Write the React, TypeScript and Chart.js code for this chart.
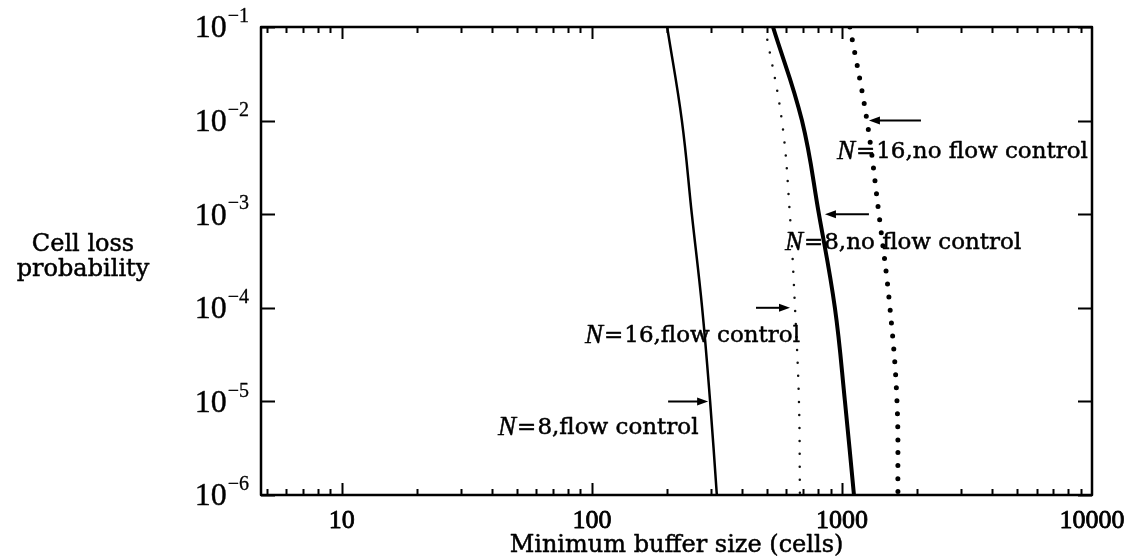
import React, { useEffect, useRef } from "react";
import { Chart, registerables } from "chart.js";

Chart.register(...registerables);

// ---- data ----
const probabilities = [1e-1, 1e-2, 1e-3, 1e-4, 1e-5, 1e-6];
const n8Flow = [200, 229, 251, 276, 297, 316];
const n16Flow = [492, 575, 619, 649, 673, 679];
const n8NoFlow = [530, 692, 809, 937, 1028, 1117];
const n16NoFlow = [1076, 1259, 1406, 1556, 1660, 1675];

const xTickValues = [10, 100, 1000, 10000];
const xTickLabels = ["10", "100", "1000", "10000"];
const yTickValues = [1e-1, 1e-2, 1e-3, 1e-4, 1e-5, 1e-6];
const yTickExponents = ["\u22121", "\u22122", "\u22123", "\u22124", "\u22125", "\u22126"];

const xTitle = "Minimum buffer size (cells)";
const yTitleLines = ["Cell loss", "probability"];

const annotationLabels = ["=16,no flow control", "=8,no flow control", "=16,flow control", "=8,flow control"];
const annotationSeries = [n16NoFlow, n8NoFlow, n16Flow, n8Flow];
const annotationIndex = [1, 2, 3, 4];
const annotationDirection = ["left", "left", "right", "right"];

const toPoints = (xs: number[]) => xs.map((x, i) => ({ x, y: probabilities[i] }));

const SERIF = "'DejaVu Serif', serif";
const TIMES = "'Liberation Serif', serif";

// layout of annotation texts relative to arrow tip (pixels)
const annotationLayout = [
  { gap: 2, len: 52, dx: -32, dy: 31 },
  { gap: 6, len: 44, dx: -40, dy: 29 },
  { gap: -5, len: 34, dx: -205, dy: 28 },
  { gap: -2, len: 40, dx: -210, dy: 27 },
];

function heavyText(ctx: CanvasRenderingContext2D, s: string, x: number, y: number, w = 0.6) {
  ctx.fillText(s, x, y);
  ctx.lineWidth = w;
  ctx.strokeText(s, x, y);
}

const framePlugin = {
  id: "framePlugin",
  afterDraw(chart: any) {
    const ctx = chart.ctx as CanvasRenderingContext2D;
    const a = chart.chartArea;
    const xs = chart.scales.x;
    const ys = chart.scales.y;
    ctx.save();
    ctx.strokeStyle = "#000";
    ctx.fillStyle = "#000";
    ctx.lineJoin = "round";

    // frame
    ctx.lineWidth = 2.5;
    ctx.strokeRect(a.left, a.top, a.right - a.left, a.bottom - a.top);

    // x ticks (major + minor), bottom and top, inward
    ctx.lineWidth = 2;
    for (let d = 0; d <= 4; d++) {
      for (let m = 1; m <= 9; m++) {
        const v = m * Math.pow(10, d);
        if (v <= xs.min || v >= xs.max) continue;
        const px = Math.round(xs.getPixelForValue(v)) + 0.5;
        const len = m === 1 ? 12 : 6;
        ctx.beginPath();
        ctx.moveTo(px, a.bottom);
        ctx.lineTo(px, a.bottom - len);
        ctx.moveTo(px, a.top);
        ctx.lineTo(px, a.top + len);
        ctx.stroke();
      }
    }
    // y ticks left and right
    yTickValues.forEach((v) => {
      const py = Math.round(ys.getPixelForValue(v)) + 0.5;
      ctx.beginPath();
      ctx.moveTo(a.left, py);
      ctx.lineTo(a.left + 14, py);
      ctx.moveTo(a.right, py);
      ctx.lineTo(a.right - 14, py);
      ctx.stroke();
    });

    // x tick labels
    ctx.font = `26px ${TIMES}`;
    ctx.textAlign = "center";
    ctx.textBaseline = "middle";
    xTickValues.forEach((v, i) => {
      heavyText(ctx, xTickLabels[i], xs.getPixelForValue(v), a.bottom + 26, 0.8);
    });

    // y tick labels with superscripts
    yTickValues.forEach((v, i) => {
      const py = ys.getPixelForValue(v);
      ctx.font = `20px ${TIMES}`;
      const ew = ctx.measureText(yTickExponents[i]).width;
      ctx.font = `32px ${TIMES}`;
      const bw = ctx.measureText("10").width;
      const right = a.left - 12;
      ctx.textAlign = "left";
      ctx.textBaseline = "middle";
      heavyText(ctx, "10", right - ew - bw - 1, py + 2, 0.4);
      ctx.font = `20px ${TIMES}`;
      heavyText(ctx, yTickExponents[i], right - ew, py - 10, 0.3);
    });

    // axis titles
    ctx.font = `24px ${SERIF}`;
    ctx.textAlign = "center";
    ctx.textBaseline = "middle";
    heavyText(ctx, xTitle, (a.left + a.right) / 2, 546, 0.5);
    heavyText(ctx, yTitleLines[0], 83, 245, 0.5);
    heavyText(ctx, yTitleLines[1], 83, 270, 0.5);

    // annotations: arrows + labels
    annotationLabels.forEach((label, i) => {
      const lay = annotationLayout[i];
      const series = annotationSeries[i];
      const idx = annotationIndex[i];
      const cx = xs.getPixelForValue(series[idx]);
      const py = ys.getPixelForValue(probabilities[idx]);
      const dir = annotationDirection[i];
      const tip = cx + lay.gap;
      const tail = dir === "left" ? tip + lay.len : tip - lay.len;
      const sgn = dir === "left" ? 1 : -1;
      ctx.lineWidth = 2;
      ctx.beginPath();
      ctx.moveTo(tail, py);
      ctx.lineTo(tip + sgn * 8, py);
      ctx.stroke();
      ctx.beginPath();
      ctx.moveTo(tip, py);
      ctx.lineTo(tip + sgn * 11, py - 4);
      ctx.lineTo(tip + sgn * 11, py + 4);
      ctx.closePath();
      ctx.fill();

      const tx = tip + lay.dx;
      const ty = py + lay.dy;
      ctx.textAlign = "left";
      ctx.textBaseline = "middle";
      ctx.font = `italic 27px ${TIMES}`;
      heavyText(ctx, "N", tx, ty, 0.5);
      const nw = ctx.measureText("N").width;
      ctx.font = `23px ${SERIF}`;
      heavyText(ctx, "=", tx + nw + 1, ty, 0.5);
      const ew = ctx.measureText("=").width;
      heavyText(ctx, label.slice(1), tx + nw + ew + 2, ty, 0.5);
    });
    ctx.restore();
  },
};

export default function App() {
  const ref = useRef<HTMLCanvasElement | null>(null);
  useEffect(() => {
    if (!ref.current) return;
    const chart = new Chart(ref.current, {
      type: "line",
      data: {
        datasets: [
          {
            label: "N=8,flow control",
            data: toPoints(n8Flow),
            borderColor: "#000",
            borderWidth: 2.5,
            pointRadius: 0,
            tension: 0.4,
          },
          {
            label: "N=16,flow control",
            data: toPoints(n16Flow),
            borderColor: "#111",
            borderWidth: 2.5,
            borderDash: [0, 13],
            borderCapStyle: "round",
            pointRadius: 0,
            tension: 0.4,
          },
          {
            label: "N=8,no flow control",
            data: toPoints(n8NoFlow),
            borderColor: "#000",
            borderWidth: 4,
            pointRadius: 0,
            tension: 0.4,
          },
          {
            label: "N=16,no flow control",
            data: toPoints(n16NoFlow),
            borderColor: "#000",
            borderWidth: 5,
            borderDash: [0, 13],
            borderCapStyle: "round",
            pointRadius: 0,
            tension: 0.4,
          },
        ],
      },
      options: {
        responsive: false,
        animation: false,
        devicePixelRatio: 1,
        layout: { padding: { left: 261, right: 37, top: 27, bottom: 63 } },
        plugins: { legend: { display: false }, tooltip: { enabled: false }, title: { display: false } },
        scales: {
          x: {
            type: "logarithmic",
            min: 4.75,
            max: 10000,
            grid: { display: false, drawTicks: false },
            border: { display: false },
            ticks: { display: false },
            afterFit: (s: any) => {
              s.height = 0;
            },
          },
          y: {
            type: "logarithmic",
            min: 1e-6,
            max: 1e-1,
            grid: { display: false, drawTicks: false },
            border: { display: false },
            ticks: { display: false },
            afterFit: (s: any) => {
              s.width = 0;
            },
          },
        },
      },
      plugins: [framePlugin],
    } as any);
    return () => chart.destroy();
  }, []);
  return (
    <div style={{ position: "absolute", left: 0, top: 0, width: 1129, height: 558, background: "#fff" }}>
      <canvas ref={ref} width={1129} height={558} style={{ width: 1129, height: 558 }} />
    </div>
  );
}
